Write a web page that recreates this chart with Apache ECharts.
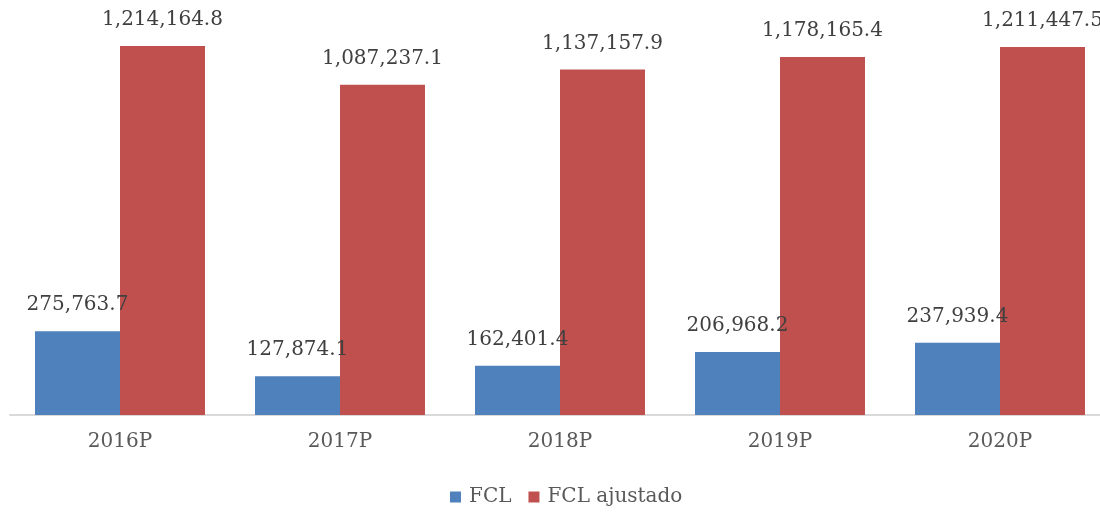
<!DOCTYPE html>
<html><head><meta charset="utf-8">
<script src="https://cdn.jsdelivr.net/npm/echarts@6/dist/echarts.min.js"></script>
<style>html,body{margin:0;padding:0;background:#fff;overflow:hidden}#c{width:1100px;height:512px}</style>
</head><body><div id="c"></div>
<script>
const categories = ['2016P','2017P','2018P','2019P','2020P'];
const fcl = [275763.7, 127874.1, 162401.4, 206968.2, 237939.4];
const fclAjustado = [1214164.8, 1087237.1, 1137157.9, 1178165.4, 1211447.5];
const seriesNames = ['FCL','FCL ajustado'];

const font = 'DejaVu Serif';
const fmt = v => v.toLocaleString('en-US',{minimumFractionDigits:1,maximumFractionDigits:1});
const chart = echarts.init(document.getElementById('c'));
const label = {show:true, position:'top', distance:16, color:'#404040', fontFamily:font, fontSize:20,
  formatter:p=>fmt(p.value)};
chart.setOption({
  animation:false,
  grid:{left:10,width:1100,top:20,bottom:97,containLabel:false,outerBoundsMode:'none'},
  legend:{bottom:0,left:445,itemWidth:11,itemHeight:11,itemGap:17,icon:'rect',
    textStyle:{fontFamily:font,fontSize:20,color:'#595959',padding:[0,0,0,3]},data:seriesNames},
  xAxis:{type:'category',data:categories,
    axisLine:{lineStyle:{color:'#D9D9D9',width:2}},axisTick:{show:false},
    axisLabel:{fontFamily:font,fontSize:20,color:'#595959',margin:17}},
  yAxis:{type:'value',min:0,max:1300000,show:false,splitLine:{show:false}},
  series:[
    {name:seriesNames[0],type:'bar',data:fcl,barWidth:85,barGap:'0%',
     itemStyle:{color:'#4F81BD'},label:label},
    {name:seriesNames[1],type:'bar',data:fclAjustado,barWidth:85,
     itemStyle:{color:'#C0504D'},label:label}
  ]
});
</script></body></html>
